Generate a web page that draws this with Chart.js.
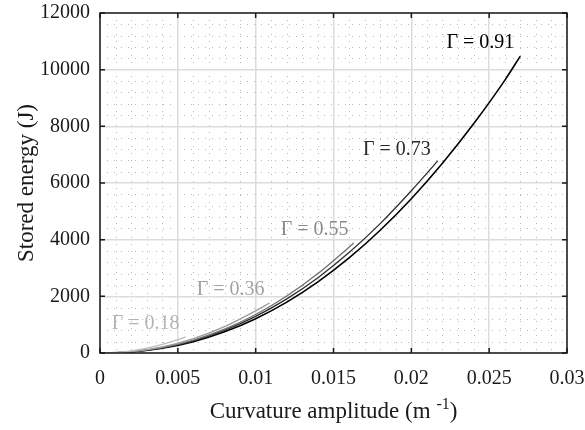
<!DOCTYPE html>
<html>
<head>
<meta charset="utf-8">
<script src="https://cdn.jsdelivr.net/npm/chart.js@4.4.1/dist/chart.umd.min.js"></script>
<style>
  html, body { margin: 0; padding: 0; background: #fff; }
</style>
</head>
<body>
<canvas id="grafico" width="585" height="430"></canvas>
<script>
// DATOS

const gammas = ['0.18', '0.36', '0.55', '0.73', '0.91'];

const curv018 = [0, 0.001, 0.002, 0.003, 0.004, 0.005, 0.0055];
const energia018 = [0, 19, 75, 170, 301, 471, 570];

const curv036 = [0, 0.002, 0.004, 0.006, 0.008, 0.010, 0.0109];
const energia036 = [0, 51, 218, 510, 933, 1490, 1765];

const curv055 = [0, 0.002, 0.004, 0.006, 0.008, 0.010, 0.012, 0.014, 0.016, 0.0163];
const energia055 = [0, 43, 190, 454, 842, 1360, 2013, 2804, 3736, 3880];

const curv073 = [0, 0.002, 0.004, 0.006, 0.008, 0.010, 0.012, 0.014, 0.016, 0.018, 0.020, 0.0217];
const energia073 = [0, 41, 180, 430, 799, 1290, 1909, 2659, 3544, 4565, 5725, 6780];

const curv091 = [0, 0.002, 0.004, 0.006, 0.008, 0.010, 0.012, 0.014, 0.016, 0.018, 0.020, 0.022, 0.024, 0.026, 0.027];
const energia091 = [0, 36, 165, 399, 746, 1210, 1797, 2511, 3355, 4332, 5445, 6696, 8088, 9622, 10480];

const xTicks = ['0', '0.005', '0.01', '0.015', '0.02', '0.025', '0.03'];
const yTicks = ['0', '2000', '4000', '6000', '8000', '10000', '12000'];

// ESTILO

const fuente = "'Liberation Serif', 'Times New Roman', serif";
const colorTexto = '#1a1a1a';
const coloresLinea = ['#bdbdbd', '#9c9c9c', '#6f6f6f', '#2e2e2e', '#000000'];
const coloresEtiqueta = ['#b3b3b3', '#a3a3a3', '#8a8a8a', '#2a2a2a', '#000000'];
// posicion (centro del texto) de cada etiqueta, en coordenadas de datos
const posEtiquetas = [
  [0.00293, 1024],
  [0.00839, 2224],
  [0.01379, 4342],
  [0.01907, 7166],
  [0.02444, 10942]
];

function puntos(xs, ys) {
  return xs.map((x, i) => ({ x: x, y: ys[i] }));
}

const series = [
  puntos(curv018, energia018),
  puntos(curv036, energia036),
  puntos(curv055, energia055),
  puntos(curv073, energia073),
  puntos(curv091, energia091)
];

const datasets = series.map((d, i) => ({
  label: 'Γ = ' + gammas[i],
  data: d,
  borderColor: coloresLinea[i],
  borderWidth: i === 4 ? 1.6 : 1.3,
  pointRadius: 0,
  fill: false,
  cubicInterpolationMode: 'monotone'
}));

// rejilla menor punteada (debajo de todo)
const rejillaMenor = {
  id: 'rejillaMenor',
  beforeDraw(chart) {
    const { ctx, chartArea: a, scales: { x, y } } = chart;
    ctx.save();
    ctx.strokeStyle = '#b8b8b8';
    ctx.lineWidth = 1;
    ctx.setLineDash([1, 6]);
    for (let v = 0.001; v < 0.03; v += 0.001) {
      if (Math.abs(v / 0.005 - Math.round(v / 0.005)) < 1e-6) continue;
      const px = Math.round(x.getPixelForValue(v)) + 0.5;
      ctx.beginPath(); ctx.moveTo(px, a.top); ctx.lineTo(px, a.bottom); ctx.stroke();
    }
    for (let v = 400; v < 12000; v += 400) {
      if (v % 2000 === 0) continue;
      const py = Math.round(y.getPixelForValue(v)) + 0.5;
      ctx.beginPath(); ctx.moveTo(a.left, py); ctx.lineTo(a.right, py); ctx.stroke();
    }
    ctx.restore();
  }
};

// marco, marcas hacia dentro, etiquetas Γ y titulos de ejes
const decoracion = {
  id: 'decoracion',
  afterDraw(chart) {
    const { ctx, chartArea: a, scales: { x, y } } = chart;
    ctx.save();
    ctx.strokeStyle = colorTexto;
    ctx.lineWidth = 1.5;
    ctx.setLineDash([]);
    ctx.strokeRect(a.left, a.top, a.right - a.left, a.bottom - a.top);

    const largo = 5;
    x.ticks.forEach(t => {
      const px = x.getPixelForValue(t.value);
      ctx.beginPath();
      ctx.moveTo(px, a.bottom); ctx.lineTo(px, a.bottom - largo);
      ctx.moveTo(px, a.top); ctx.lineTo(px, a.top + largo);
      ctx.stroke();
    });
    y.ticks.forEach(t => {
      const py = y.getPixelForValue(t.value);
      ctx.beginPath();
      ctx.moveTo(a.left, py); ctx.lineTo(a.left + largo, py);
      ctx.moveTo(a.right, py); ctx.lineTo(a.right - largo, py);
      ctx.stroke();
    });

    // etiquetas Γ
    ctx.font = '20px ' + fuente;
    ctx.textAlign = 'center';
    ctx.textBaseline = 'middle';
    gammas.forEach((g, i) => {
      ctx.fillStyle = coloresEtiqueta[i];
      ctx.fillText('Γ = ' + g, x.getPixelForValue(posEtiquetas[i][0]), y.getPixelForValue(posEtiquetas[i][1]));
    });

    // titulo eje x con superindice
    ctx.fillStyle = colorTexto;
    ctx.textAlign = 'left';
    ctx.textBaseline = 'alphabetic';
    const base = '23px ' + fuente;
    const sup = '16px ' + fuente;
    const p1 = 'Curvature amplitude (m ', p2 = '-1', p3 = ')';
    ctx.font = base; const w1 = ctx.measureText(p1).width, w3 = ctx.measureText(p3).width;
    ctx.font = sup; const w2 = ctx.measureText(p2).width;
    const total = w1 + w2 + w3;
    let cx = (a.left + a.right) / 2 - total / 2;
    const by = 418;
    ctx.font = base; ctx.fillText(p1, cx, by); cx += w1;
    ctx.font = sup; ctx.fillText(p2, cx, by - 9); cx += w2;
    ctx.font = base; ctx.fillText(p3, cx, by);

    // titulo eje y
    ctx.translate(27, (a.top + a.bottom) / 2);
    ctx.rotate(-Math.PI / 2);
    ctx.textAlign = 'center';
    ctx.textBaseline = 'middle';
    ctx.font = base;
    ctx.fillText('Stored energy (J)', 0, 0);
    ctx.restore();
  }
};

const ctx = document.getElementById('grafico').getContext('2d');
const grafico = new Chart(ctx, {
  type: 'line',
  data: { datasets: datasets },
  options: {
    responsive: false,
    animation: false,
    layout: { padding: { top: 13, right: 18, left: 0, bottom: 0 } },
    plugins: {
      legend: { display: false },
      tooltip: { enabled: false }
    },
    scales: {
      x: {
        type: 'linear',
        min: 0,
        max: 0.03,
        afterFit: s => { s.height = 77; s.paddingLeft = 0; s.paddingRight = 0; },
        ticks: {
          stepSize: 0.005,
          padding: 14,
          color: colorTexto,
          font: { family: fuente, size: 20 },
          maxRotation: 0,
          callback: (v, i) => xTicks[i]
        },
        grid: { color: '#dcdcdc', lineWidth: 1.5, drawTicks: false },
        border: { display: false }
      },
      y: {
        type: 'linear',
        min: 0,
        max: 12000,
        afterFit: s => { s.width = 100; s.paddingTop = 0; s.paddingBottom = 0; },
        ticks: {
          stepSize: 2000,
          padding: 10,
          color: colorTexto,
          font: { family: fuente, size: 20 },
          callback: (v, i) => yTicks[i]
        },
        grid: { color: '#dcdcdc', lineWidth: 1.5, drawTicks: false },
        border: { display: false }
      }
    }
  },
  plugins: [rejillaMenor, decoracion]
});
</script>
</body>
</html>
